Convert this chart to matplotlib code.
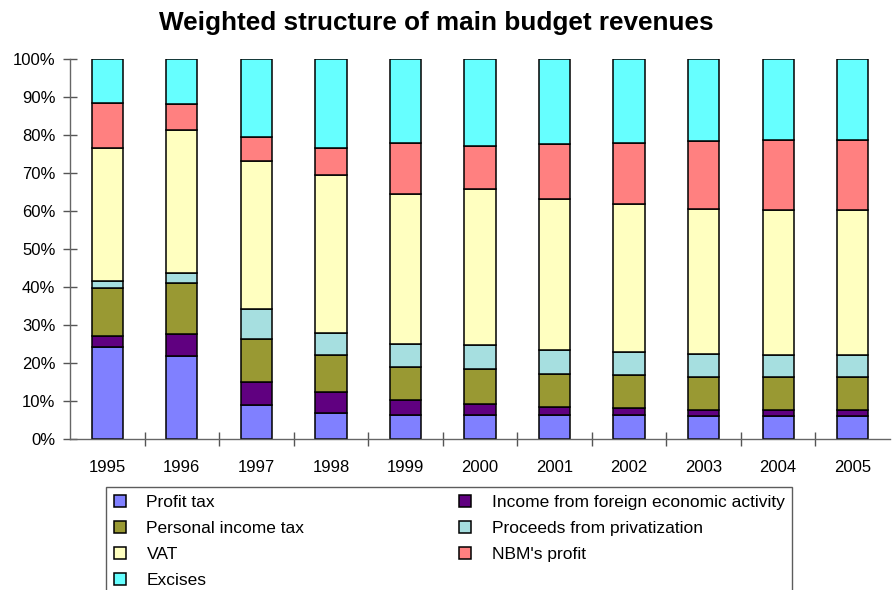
import numpy as np
import matplotlib.pyplot as plt

plt.rcParams['font.family'] = ['Liberation Sans', 'DejaVu Sans']

years = ['1995', '1996', '1997', '1998', '1999', '2000',
         '2001', '2002', '2003', '2004', '2005']

# shares of total revenues, percent (stacked bottom to top)
profit_tax = [24.2, 21.9, 8.9, 6.8, 6.3, 6.3, 6.3, 6.2, 6.0, 6.0, 6.0]
foreign_activity = [2.9, 5.8, 6.1, 5.6, 4.0, 3.0, 2.1, 2.0, 1.6, 1.6, 1.6]
personal_income = [12.7, 13.4, 11.3, 9.6, 8.7, 9.2, 8.8, 8.6, 8.8, 8.8, 8.8]
privatization = [1.8, 2.7, 7.9, 6.0, 5.9, 6.2, 6.2, 6.0, 6.1, 5.6, 5.6]
vat = [35.0, 37.7, 39.1, 41.6, 39.5, 41.1, 39.7, 39.0, 38.0, 38.2, 38.2]
nbm_profit = [11.9, 6.6, 6.3, 7.0, 13.6, 11.3, 14.5, 16.2, 18.0, 18.5, 18.5]
excises = [11.5, 11.9, 20.4, 23.4, 22.0, 22.9, 22.4, 22.0, 21.5, 21.3, 21.3]

series = [
    ('Profit tax', profit_tax, '#8080ff'),
    ('Income from foreign economic activity', foreign_activity, '#600080'),
    ('Personal income tax', personal_income, '#999933'),
    ('Proceeds from privatization', privatization, '#a6dfe0'),
    ('VAT', vat, '#ffffc0'),
    ("NBM's profit", nbm_profit, '#ff8080'),
    ('Excises', excises, '#66ffff'),
]

fig = plt.figure(figsize=(8.92, 5.90), dpi=100)
ax = fig.add_axes([70 / 892, 1 - 439 / 590, 820 / 892, 379.7 / 590])

x = np.arange(len(years))
totals = np.sum([s[1] for s in series], axis=0)
bottom = np.zeros(len(years))
handles = {}
for name, vals, col in series:
    v = np.array(vals) / totals
    b = ax.bar(x, v, 0.42, bottom=bottom, color=col, edgecolor='black',
               linewidth=1.1, label=name)
    handles[name] = b
    bottom += v

ax.set_xlim(-0.5, len(years) - 0.5)
ax.set_ylim(0, 1)
ax.set_yticks(np.linspace(0, 1, 11))
ax.set_yticklabels([f'{int(round(t * 100))}%' for t in np.linspace(0, 1, 11)])
ax.set_xticks(x)
ax.set_xticklabels(years)
ax.set_xticks(np.arange(0.5, len(years) - 1, 1), minor=True)

ax.tick_params(axis='x', which='major', length=0, pad=15, labelsize=12)
ax.tick_params(axis='x', which='minor', direction='inout', length=10,
               width=1, color='#555555')
ax.tick_params(axis='y', direction='inout', length=10, width=1,
               color='#555555', pad=5.5, labelsize=12)

for s in ['top', 'right']:
    ax.spines[s].set_visible(False)
for s in ['left', 'bottom']:
    ax.spines[s].set_color('#666666')
    ax.spines[s].set_linewidth(1)

fig.text(0.489, 1 - 23 / 590, 'Weighted structure of main budget revenues',
         ha='center', va='center', fontsize=18.8, fontweight='bold')

order = ['Profit tax', 'Personal income tax', 'VAT', 'Excises',
         'Income from foreign economic activity',
         'Proceeds from privatization', "NBM's profit"]
leg = fig.legend([handles[n] for n in order], order, ncol=2,
                 loc='upper left', bbox_to_anchor=(106 / 892, 1 - 487 / 590),
                 borderaxespad=0, fontsize=12.5, frameon=True,
                 fancybox=False, handlelength=0.69, handleheight=0.7,
                 handletextpad=1.19, columnspacing=8.9, labelspacing=0.62,
                 borderpad=0.45)
leg.get_frame().set_edgecolor('#333333')
leg.get_frame().set_linewidth(1)

fig.savefig('out.png', dpi=100)
